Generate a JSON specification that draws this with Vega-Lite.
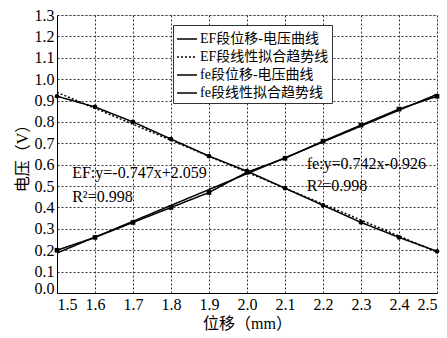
{
  "$schema": "https://vega.github.io/schema/vega-lite/v6.json",
  "width": 380,
  "height": 278,
  "autosize": {"type": "none"},
  "padding": {"left": 57, "top": 15, "right": 10, "bottom": 45},
  "datasets": {
    "lines": [
      {"x": 1.5, "v": 0.92, "series": "EF段位移-电压曲线"},
      {"x": 1.6, "v": 0.87, "series": "EF段位移-电压曲线"},
      {"x": 1.7, "v": 0.80, "series": "EF段位移-电压曲线"},
      {"x": 1.8, "v": 0.72, "series": "EF段位移-电压曲线"},
      {"x": 1.9, "v": 0.64, "series": "EF段位移-电压曲线"},
      {"x": 2.0, "v": 0.57, "series": "EF段位移-电压曲线"},
      {"x": 2.1, "v": 0.49, "series": "EF段位移-电压曲线"},
      {"x": 2.2, "v": 0.41, "series": "EF段位移-电压曲线"},
      {"x": 2.3, "v": 0.33, "series": "EF段位移-电压曲线"},
      {"x": 2.4, "v": 0.26, "series": "EF段位移-电压曲线"},
      {"x": 2.5, "v": 0.195, "series": "EF段位移-电压曲线"},
      {"x": 1.5, "v": 0.9385, "series": "EF段线性拟合趋势线"},
      {"x": 2.5, "v": 0.1915, "series": "EF段线性拟合趋势线"},
      {"x": 1.5, "v": 0.20, "series": "fe段位移-电压曲线"},
      {"x": 1.6, "v": 0.26, "series": "fe段位移-电压曲线"},
      {"x": 1.7, "v": 0.33, "series": "fe段位移-电压曲线"},
      {"x": 1.8, "v": 0.40, "series": "fe段位移-电压曲线"},
      {"x": 1.9, "v": 0.47, "series": "fe段位移-电压曲线"},
      {"x": 2.0, "v": 0.565, "series": "fe段位移-电压曲线"},
      {"x": 2.1, "v": 0.63, "series": "fe段位移-电压曲线"},
      {"x": 2.2, "v": 0.71, "series": "fe段位移-电压曲线"},
      {"x": 2.3, "v": 0.785, "series": "fe段位移-电压曲线"},
      {"x": 2.4, "v": 0.86, "series": "fe段位移-电压曲线"},
      {"x": 2.5, "v": 0.92, "series": "fe段位移-电压曲线"},
      {"x": 1.5, "v": 0.187, "series": "fe段线性拟合趋势线"},
      {"x": 2.5, "v": 0.929, "series": "fe段线性拟合趋势线"}
    ],
    "labels": [
      {"x": 1.54, "v": 0.562, "label": "EF:y=-0.747x+2.059"},
      {"x": 1.54, "v": 0.45, "label": "R²=0.998"},
      {"x": 2.157, "v": 0.604, "label": "fe:y=0.742x-0.926"},
      {"x": 2.157, "v": 0.50, "label": "R²=0.998"}
    ]
  },
  "encoding": {
    "x": {
      "field": "x", "type": "quantitative",
      "scale": {"domain": [1.5, 2.5], "nice": false, "zero": false},
      "axis": {
        "values": [1.5, 1.6, 1.7, 1.8, 1.9, 2.0, 2.1, 2.2, 2.3, 2.4, 2.5],
        "format": ".1f", "title": "位移（mm）",
        "labelOverlap": false,
        "labelFont": "Liberation Serif", "labelFontSize": 16, "labelColor": "black",
        "titleFont": "Liberation Serif, Noto Sans CJK SC", "titleFontSize": 16, "titleFontWeight": "normal", "titleColor": "black",
        "grid": true, "gridColor": "#333", "gridDash": [2, 2], "gridWidth": 1,
        "tickSize": 0, "domainColor": "black",
        "labelPadding": 3, "titlePadding": 3
      }
    },
    "y": {
      "field": "v", "type": "quantitative",
      "scale": {"domain": [0, 1.3], "nice": false},
      "axis": {
        "values": [0, 0.1, 0.2, 0.3, 0.4, 0.5, 0.6, 0.7, 0.8, 0.9, 1.0, 1.1, 1.2, 1.3],
        "format": ".1f", "title": "电压（V）",
        "labelOverlap": false,
        "labelOffset": {"condition": {"test": "datum.value == 0", "value": -5}, "value": 0},
        "labelFont": "Liberation Serif", "labelFontSize": 16, "labelColor": "black",
        "titleFont": "Liberation Serif, Noto Sans CJK SC", "titleFontSize": 16, "titleFontWeight": "normal", "titleColor": "black",
        "grid": true, "gridColor": "#333", "gridDash": [2, 2], "gridWidth": 1,
        "tickSize": 0, "domainColor": "black",
        "labelPadding": 3, "titlePadding": 4
      }
    }
  },
  "layer": [
    {
      "data": {"name": "lines"},
      "mark": {"type": "line", "strokeWidth": 1.5},
      "encoding": {
        "strokeDash": {
          "field": "series", "type": "nominal",
          "scale": {
            "domain": ["EF段位移-电压曲线", "EF段线性拟合趋势线", "fe段位移-电压曲线", "fe段线性拟合趋势线"],
            "range": [[1, 0], [2, 2], [1, 0], [1, 0]]
          },
          "legend": {
            "title": null,
            "orient": "none",
            "legendX": 116,
            "legendY": 10,
            "strokeColor": "#333",
            "fillColor": "white",
            "padding": 3,
            "rowPadding": 0,
            "labelFont": "Liberation Serif, Noto Sans CJK SC",
            "labelFontSize": 14,
            "labelColor": "black",
            "symbolType": "stroke",
            "symbolSize": 400,
            "symbolStrokeColor": "black",
            "symbolStrokeWidth": 1.5,
            "labelOffset": 2
          }
        },
        "color": {"value": "black"}
      }
    },
    {
      "data": {"name": "lines"},
      "transform": [{"filter": "datum.series === 'EF段位移-电压曲线' || datum.series === 'fe段位移-电压曲线'"}],
      "mark": {"type": "point", "filled": true, "size": 22, "color": "black", "opacity": 1},
      "encoding": {
        "shape": {"field": "series", "type": "nominal", "scale": {"range": ["circle", "square"]}, "legend": null}
      }
    },
    {
      "data": {"name": "labels"},
      "mark": {"type": "text", "align": "left", "baseline": "middle", "font": "Liberation Serif", "fontSize": 16, "color": "black"},
      "encoding": {
        "text": {"field": "label"}
      }
    }
  ]
}
